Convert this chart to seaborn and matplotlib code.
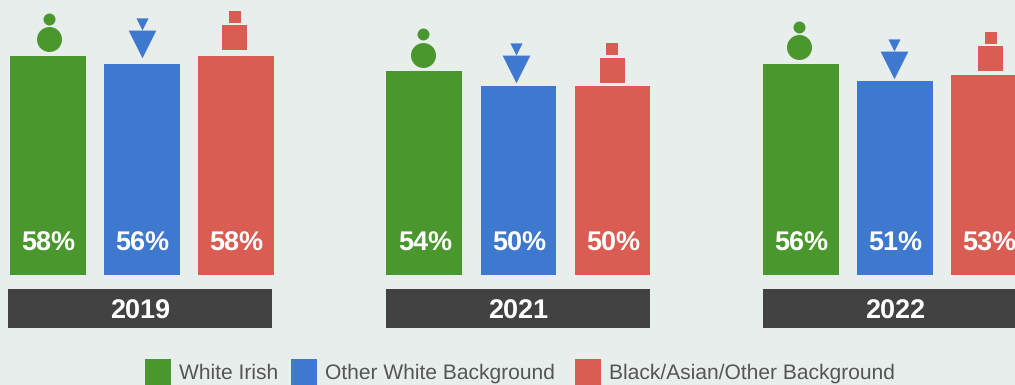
import matplotlib
matplotlib.use("Agg")
import matplotlib.pyplot as plt
from matplotlib.patches import Patch, Rectangle
from matplotlib.transforms import offset_copy
import pandas as pd
import seaborn as sns

years = ["2019", "2021", "2022"]
groups = ["White Irish", "Other White Background", "Black/Asian/Other Background"]
white_irish = [58, 54, 56]
other_white = [56, 50, 51.3]
black_asian = [58, 50, 53]
colors = ["#4A972E", "#3F79CF", "#D95D52"]
shapes = ["o", "v", "s"]

BG = "#E8EEEC"
DARK = "#424242"
W, H = 1015, 385
PX_PER_PCT = 3.776
GROUP_PITCH = 376.5
BASE_Y = 275
FIRST_CENTER = 141.9

plt.rcParams["font.family"] = ["Liberation Sans", "DejaVu Sans"]
plt.rcParams["text.hinting"] = "no_hinting"
plt.rcParams["text.hinting_factor"] = 1

df = pd.DataFrame({
    "year": years * 3,
    "group": [g for g in groups for _ in years],
    "value": white_irish + other_white + black_asian,
})

fig = plt.figure(figsize=(W / 100, H / 100), dpi=100, facecolor=BG)
ax = fig.add_axes([0, 0, 1, 1])
ax.set_facecolor(BG)

sns.barplot(data=df, x="year", y="value", hue="group", order=years, hue_order=groups,
            palette=colors, saturation=1, width=0.75, gap=0.195, linewidth=0,
            legend=False, ax=ax)

ax.set_xlim(-FIRST_CENTER / GROUP_PITCH, (W - FIRST_CENTER) / GROUP_PITCH)
ax.set_ylim(-(H - BASE_Y) / PX_PER_PCT, BASE_Y / PX_PER_PCT)
ax.axis("off")

# pixel offsets of each bar's two icon marks, relative to the bar top centre
series = [white_irish, other_white, black_asian]
big_dx = [[0.7, -1.5, -1.5], [0, -2.5, -0.7], [-1.5, -0.5, 1.5]]
small_dx = [[0.7, -1.5, -1.5], [0, -2.5, -0.5], [-1, 0, 2]]
big_lift = [[16.5, 16.5, 17], [20, 17, 16], [18.5, 16.5, 16.5]]
small_lift = [[37, 37, 37], [40, 37, 36], [39, 37, 37]]
big_size = [18, 20, 18]
small_size = [8.6, 8.8, 8.6]

for j, vals in enumerate(series):
    for i, v in enumerate(vals):
        x = i + (j - 1) * 94 / GROUP_PITCH
        for dx, lift, size in ((big_dx[j][i], big_lift[j][i], big_size[j]),
                               (small_dx[j][i], small_lift[j][i], small_size[j])):
            tr = offset_copy(ax.transData, fig=fig, x=dx, y=lift, units="dots")
            ax.scatter([x], [v], marker=shapes[j], s=size ** 2, color=colors[j],
                       linewidths=0, transform=tr, clip_on=False, zorder=3)
        ax.annotate(f"{v:.0f}%", xy=(x, 0), xytext=(0.4 * 0.72, 24.5 * 0.72),
                    textcoords="offset points", ha="center", va="baseline", color="white",
                    fontsize=19.2, fontweight="bold", annotation_clip=False, zorder=4)

# year bands below the bars (pixel layout)
band_left = [8, 386, 763]
for left, year in zip(band_left, years):
    fig.add_artist(Rectangle((left / W, 1 - 328 / H), 264 / W, 39 / H,
                             transform=fig.transFigure, facecolor=DARK, edgecolor="none"))
    fig.text((left + 132) / W, 1 - 318.5 / H, year, ha="center", va="baseline",
             color="white", fontsize=19.2, fontweight="bold")

# one legend per entry, because the gaps between entries are uneven in the reference
legend_left = [145, 291, 575]
for c, g, left in zip(colors, groups, legend_left):
    fig.legend(handles=[Patch(facecolor=c, edgecolor="none", label=g)], loc="lower left",
               bbox_to_anchor=(left / W, 0), frameon=False, fontsize=15.1,
               labelcolor="#555555", borderpad=0, borderaxespad=0,
               handlelength=1.24, handleheight=1.5, handletextpad=0.36)

fig.savefig("out.png", dpi=100, facecolor=BG)
